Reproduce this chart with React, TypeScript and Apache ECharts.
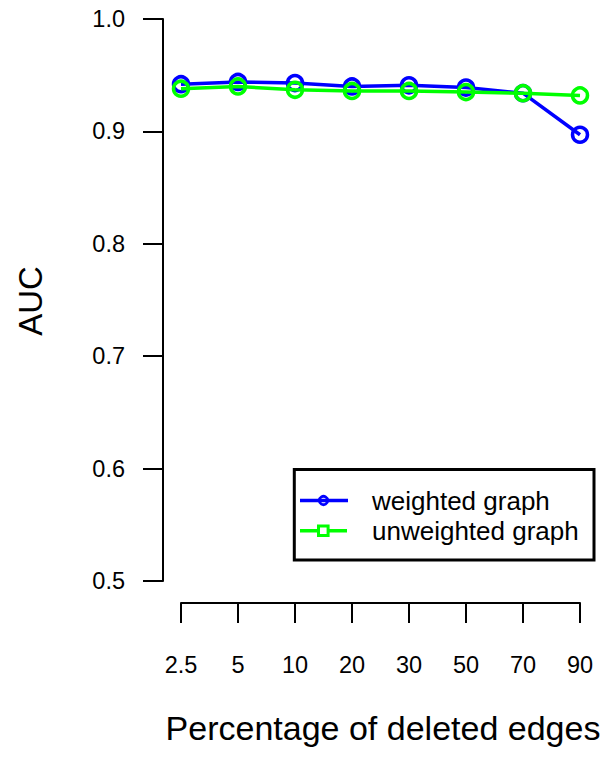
import React, { useEffect, useRef } from "react";
import * as echarts from "echarts";

const categories = ["2.5", "5", "10", "20", "30", "50", "70", "90"];
const weighted = [0.942, 0.944, 0.943, 0.940, 0.941, 0.939, 0.934, 0.897];
const unweighted = [0.938, 0.940, 0.937, 0.936, 0.936, 0.935, 0.934, 0.932];
const yTicks = [0.5, 0.6, 0.7, 0.8, 0.9, 1.0];
const xTitle = "Percentage of deleted edges";
const yTitle = "AUC";
const legendNames = ["weighted graph", "unweighted graph"];

const FONT = "'Liberation Sans', Arial, Helvetica, sans-serif";
const BLUE = "#0000FF";
const GREEN = "#00FF00";

export default function App() {
  const ref = useRef<HTMLDivElement>(null);
  useEffect(() => {
    if (!ref.current) return;
    const chart = echarts.init(ref.current, undefined, { renderer: "svg" });
    const axisLine = { show: true, lineStyle: { color: "#000", width: 2 } };
    chart.setOption({
      animation: false,
      backgroundColor: "#fff",
      textStyle: { fontFamily: FONT },
      grid: { left: 181, right: 25, top: 19, bottom: 177, containLabel: false },
      xAxis: {
        type: "category",
        data: categories,
        boundaryGap: false,
        offset: 22,
        axisLine,
        axisTick: { show: true, length: 20, lineStyle: { color: "#000", width: 2 } },
        axisLabel: { color: "#000", fontSize: 23.5, margin: 50, fontFamily: FONT, interval: 0 },
        splitLine: { show: false },
      },
      yAxis: {
        type: "value",
        min: yTicks[0],
        max: yTicks[yTicks.length - 1],
        interval: 0.1,
        offset: 18,
        axisLine,
        axisTick: { show: true, length: 20, lineStyle: { color: "#000", width: 2 } },
        axisLabel: {
          color: "#000",
          fontSize: 23.5,
          margin: 38,
          fontFamily: FONT,
          formatter: (v: number) => v.toFixed(1),
        },
        splitLine: { show: false },
      },
      series: [
        {
          name: legendNames[0],
          type: "line",
          data: weighted,
          clip: false,
          symbol: "circle",
          symbolSize: 15,
          lineStyle: { color: BLUE, width: 3.5 },
          itemStyle: { color: "transparent", borderColor: BLUE, borderWidth: 3.5 },
          z: 2,
        },
        {
          name: legendNames[1],
          type: "line",
          data: unweighted,
          clip: false,
          symbol: "circle",
          symbolSize: 15,
          lineStyle: { color: GREEN, width: 3.5 },
          itemStyle: { color: "transparent", borderColor: GREEN, borderWidth: 3.5 },
          z: 3,
        },
      ],
      graphic: [
        {
          type: "text",
          x: 383,
          y: 728,
          style: {
            text: xTitle,
            fontSize: 34,
            fontFamily: FONT,
            fill: "#000",
            textAlign: "center",
            textVerticalAlign: "middle",
          },
        },
        {
          type: "text",
          x: 30.5,
          y: 301,
          rotation: Math.PI / 2,
          style: {
            text: yTitle,
            fontSize: 33,
            fontFamily: FONT,
            fill: "#000",
            textAlign: "center",
            textVerticalAlign: "middle",
          },
        },
        {
          type: "rect",
          shape: { x: 294.3, y: 469.5, width: 299.7, height: 90.5 },
          style: { fill: "#fff", stroke: "#000", lineWidth: 3 },
          z: 10,
        },
        {
          type: "line",
          shape: { x1: 300, y1: 500.5, x2: 348, y2: 500.5 },
          style: { stroke: BLUE, lineWidth: 3.5 },
          z: 11,
        },
        {
          type: "circle",
          shape: { cx: 323.5, cy: 500.5, r: 4.2 },
          style: { fill: "none", stroke: BLUE, lineWidth: 2.8 },
          z: 12,
        },
        {
          type: "line",
          shape: { x1: 300, y1: 530.7, x2: 347, y2: 530.7 },
          style: { stroke: GREEN, lineWidth: 3.5 },
          z: 11,
        },
        {
          type: "rect",
          shape: { x: 318.5, y: 525.9, width: 9.6, height: 9.6 },
          style: { fill: "#fff", stroke: GREEN, lineWidth: 3 },
          z: 12,
        },
        {
          type: "text",
          x: 372,
          y: 500.5,
          style: {
            text: legendNames[0],
            fontSize: 26,
            fontFamily: FONT,
            fill: "#000",
            textAlign: "left",
            textVerticalAlign: "middle",
          },
          z: 12,
        },
        {
          type: "text",
          x: 372,
          y: 531,
          style: {
            text: legendNames[1],
            fontSize: 26,
            fontFamily: FONT,
            fill: "#000",
            textAlign: "left",
            textVerticalAlign: "middle",
          },
          z: 12,
        },
      ],
    });
    return () => chart.dispose();
  }, []);
  return (
    <div
      ref={ref}
      style={{ position: "fixed", left: 0, top: 0, width: 605, height: 758, background: "#fff" }}
    />
  );
}
